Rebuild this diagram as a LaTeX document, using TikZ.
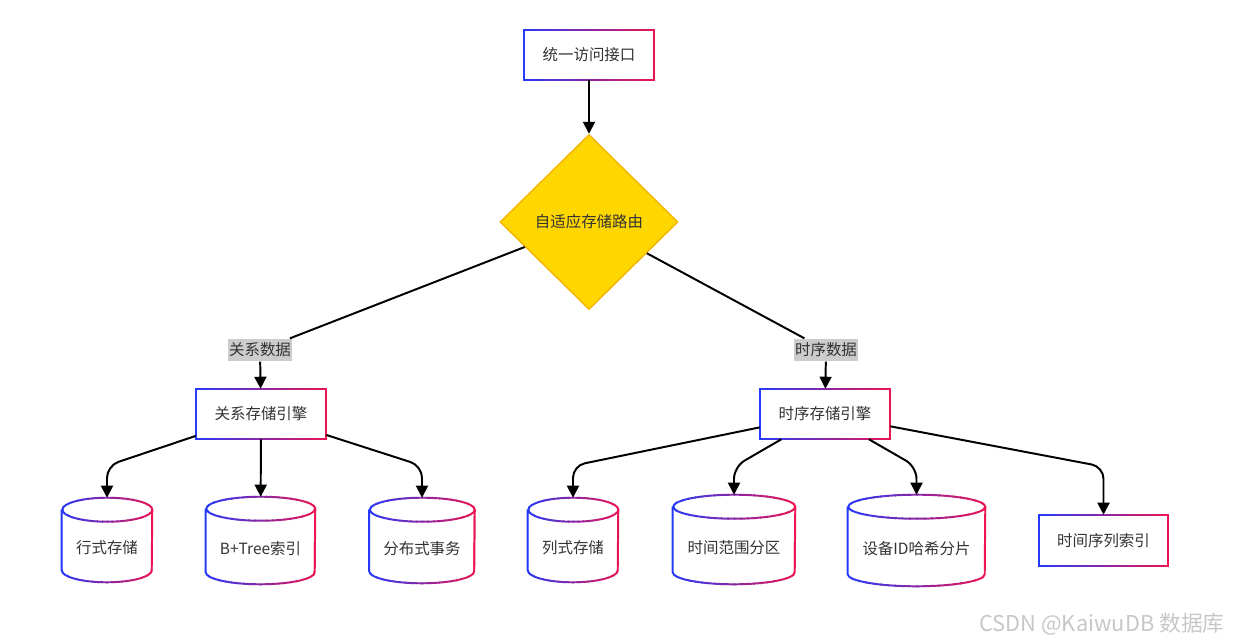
\documentclass[tikz,border=0pt]{standalone}
\usepackage{fontspec}
\setmainfont{Noto Sans CJK SC}
\usetikzlibrary{shapes.geometric,arrows.meta,calc}

\definecolor{gblue}{HTML}{1F3BFF}
\definecolor{gred}{HTML}{F0134F}
\definecolor{gold}{HTML}{FFD700}
\definecolor{goldline}{HTML}{F5B400}
\definecolor{txt}{HTML}{333333}
\definecolor{tagbg}{HTML}{CCCCCC}

\def\u{0.025cm}

\tikzset{
  box/.style={rectangle, fill=white, minimum width=130*\u, minimum height=50*\u,
    inner sep=0pt, text=txt, font=\fontsize{11}{13}\selectfont},
  db/.style={rectangle, inner sep=0pt},
  choice/.style={diamond, fill=gold, draw=goldline, line width=1pt, inner sep=0pt,
    minimum width=178*\u, minimum height=175*\u, text=txt, font=\fontsize{11}{13}\selectfont},
  tag/.style={fill=tagbg, inner xsep=1pt, inner ysep=3pt, text=txt,
    font=\fontsize{11}{13}\selectfont},
  arr/.style={-{Triangle[length=0.3cm,width=0.3cm]}, line width=1.4pt},
  link/.style={line width=1.4pt},
}

% border going from blue to red, drawn in vertical strips
\newcommand{\gradstroke}[2]{%
  \coordinate (gA) at ($(#1.north west)+(-4,6)$);
  \coordinate (gB) at ($(#1.south east)+(4,-6)$);
  \coordinate (gC) at (gA -| gB);
  \coordinate (gD) at (gA |- gB);
  \foreach \i [evaluate=\i as \fa using \i/20,
               evaluate=\i as \fb using (\i+1.2)/20,
               evaluate=\i as \p using int(97.5-5*\i)] in {0,...,19} {
    \begin{scope}
      \clip ($(gA)!\fa!(gC)$) rectangle ($(gD)!\fb!(gB)$);
      \draw[gblue!\p!gred, line width=1.4pt] #2;
    \end{scope}
  }%
}

% cylinder: name, x, y, width, height, text
\newcommand{\dbnode}[6]{%
  \node[db, minimum width=#4*\u, minimum height=#5*\u,
    label={[text=txt, font=\fontsize{11}{13}\selectfont, yshift=-8*\u]center:#6}]
    (#1) at (#2,#3) {};
  \gradstroke{#1}{($(#1.north west)+(0,-12)$) -- ($(#1.south west)+(0,12)$)
    arc[start angle=180, end angle=360, x radius=#4/2, y radius=12]
    -- ($(#1.north east)+(0,-12)$)
    arc[start angle=0, end angle=180, x radius=#4/2, y radius=12]
    arc[start angle=180, end angle=360, x radius=#4/2, y radius=12]}
}

\begin{document}
\begin{tikzpicture}[x=0.025cm, y=0.025cm]
  \useasboundingbox (0,0) rectangle (1236,-644);

  % entry and router
  \node[box] (top) at (589,-55) {统一访问接口};
  \gradstroke{top}{(top.south west) rectangle (top.north east)}
  \node[choice] (dia) at (589,-222) {自适应存储路由};

  \node[tag] (tagR) at (260,-350) {关系数据};
  \node[tag] (tagT) at (826,-350) {时序数据};

  % engines
  \node[box] (rel) at (261,-414) {关系存储引擎};
  \gradstroke{rel}{(rel.south west) rectangle (rel.north east)}
  \node[box] (ts) at (825,-414) {时序存储引擎};
  \gradstroke{ts}{(ts.south west) rectangle (ts.north east)}

  % storage
  \dbnode{c1}{107}{-540}{90}{84}{行式存储}
  \dbnode{c2}{260.5}{-540.5}{109}{87}{B+Tree索引}
  \dbnode{c3}{422}{-540.5}{105}{85}{分布式事务}
  \dbnode{c4}{573}{-540}{90}{84}{列式存储}
  \dbnode{c5}{734}{-539.5}{122}{89}{时间范围分区}
  \dbnode{c6}{916.5}{-540.5}{137}{91}{设备ID哈希分片}
  \node[box, minimum width=129*\u, minimum height=51*\u] (tsidx) at (1103.5,-540.5) {时间序列索引};
  \gradstroke{tsidx}{(tsidx.south west) rectangle (tsidx.north east)}

  % connectors
  \draw[arr] (top) -- (dia);
  \draw[link] (dia) -- (tagR);
  \draw[link] (dia) -- (tagT);
  \draw[arr] (tagR) -- (rel);
  \draw[arr] (tagT) -- (ts);
  \begin{scope}[rounded corners=0.3cm]
    \draw[arr] (rel) -- ($(c1.north)+(0,32)$) -- (c1);
    \draw[arr] (rel) -- (c2);
    \draw[arr] (rel) -- ($(c3.north)+(0,32)$) -- (c3);
    \draw[arr] (ts) -- ($(c4.north)+(0,32)$) -- (c4);
    \draw[arr] (ts) -- ($(c5.north)+(0,28)$) -- (c5);
    \draw[arr] (ts) -- ($(c6.north)+(0,28)$) -- (c6);
    \draw[arr] (ts) -- ($(tsidx.north)+(0,48)$) -- (tsidx);
  \end{scope}

  \node[text=black!22, font=\fontsize{15.5}{18}\selectfont] (mark) at (1102,-624) {CSDN @KaiwuDB 数据库};
\end{tikzpicture}
\end{document}
